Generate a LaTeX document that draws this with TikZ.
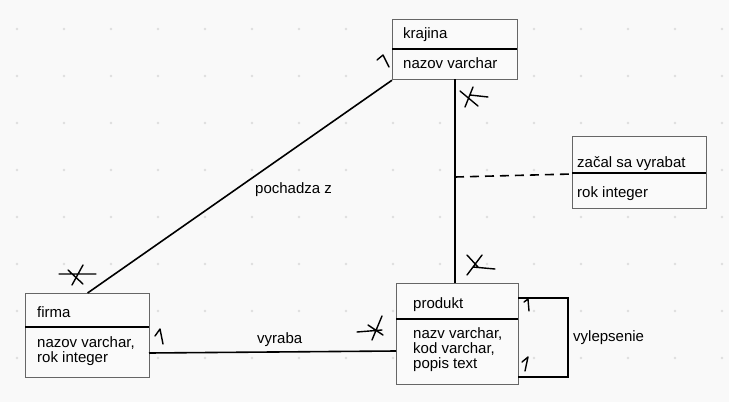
\documentclass[tikz,border=0pt]{standalone}
\usepackage{fontspec}
\setmainfont{Liberation Sans}
\begin{document}
\begin{tikzpicture}[x=1pt,y=-1pt,
  entbox/.style={draw=black!60, line width=1.2pt, fill=white!98!black, rectangle, inner sep=0pt, anchor=north west},
  divider/.style={line width=1.8pt, black},
  conn/.style={line width=1.6pt, black},
  txt/.style={inner sep=0pt, anchor=base west, font=\fontsize{15}{15}\selectfont},
  hand/.style={line width=1.4pt, black, line cap=round, line join=round}]
\useasboundingbox (0,0) rectangle (729,402);
\fill[white!97.5!black] (0,0) rectangle (729,402);
% dot grid
\foreach \i in {0,...,15}{\foreach \j in {0,...,7}{
  \fill[black!13] (17+47*\i,29+47*\j) circle (1.3pt);}}
% boxes
\node[entbox, minimum width=125pt, minimum height=60pt] (krajina) at (392,19) {};
\node[entbox, minimum width=124pt, minimum height=84pt] (firma) at (25,293) {};
\node[entbox, minimum width=122pt, minimum height=101pt] (produkt) at (396,283) {};
\node[entbox, minimum width=134pt, minimum height=72pt] (zacal) at (572,136) {};
\draw[divider] (392,49) -- (517,49);
\draw[divider] (25,327) -- (149,327);
\draw[divider] (396,319) -- (518,319);
\draw[divider] (572,173) -- (706,173);
% texts
\node[txt] (t1) at (403,38) {krajina};
\node[txt] (t2) at (403,68) {nazov varchar};
\node[txt] (t3) at (37,317) {firma};
\node[txt] (t4a) at (37,347) {nazov varchar,};
\node[txt] (t4b) at (37,362) {rok integer};
\node[txt] (t5) at (413,308) {produkt};
\node[txt] (t6a) at (413,338) {nazv varchar,};
\node[txt] (t6b) at (413,353) {kod varchar,};
\node[txt] (t6c) at (413,368) {popis text};
\node[txt] (t7) at (577,167) {začal sa vyrabat};
\node[txt] (t8) at (577,197) {rok integer};
% connectors
\draw[conn] (krajina.south west) -- (firma.north);
\draw[conn] (455,79) -- (455,283);
\coordinate (dashA) at (455,177);
\coordinate (dashB) at (572,174);
\draw[conn, dash pattern=on 9pt off 6pt] (dashA) -- (dashB);
\coordinate (fA) at (149,353);
\coordinate (pA) at (396,351);
\draw[conn] (fA) -- (pA);
\coordinate (l1) at (518,298);
\coordinate (l2) at (568,298);
\coordinate (l3) at (568,377);
\coordinate (l4) at (518,377);
\draw[conn] (l1) -- (l2) -- (l3) -- (l4);
% labels
\node[txt] (lab1) at (255,193) {pochadza z};
\node[txt] (lab2) at (257,343) {vyraba};
\node[txt] (lab3) at (573,341) {vylepsenie};
% hand-drawn stars
\draw[hand] (460,91) -- (478,106) (473,87) -- (465,107) (470,95) -- (488,97);
\draw[hand] (467,255) -- (478,267) (482,255) -- (467,275) (473,267) -- (495,269);
\draw[hand] (59,274) -- (96,274) (83,265) -- (72,285) (68,270) -- (83,284);
\draw[hand] (357,332) -- (382,330) (382,316) -- (372,340) (368,325) -- (383,335);
% hand-drawn ones
\draw[hand] (377,60) -- (383,55) -- (389,67);
\draw[hand] (155,336) -- (160,329) -- (163,344);
\draw[hand] (524,302) -- (528,299) -- (529,311);
\draw[hand] (522,362) -- (528,357) -- (525,371);
\end{tikzpicture}
\end{document}
